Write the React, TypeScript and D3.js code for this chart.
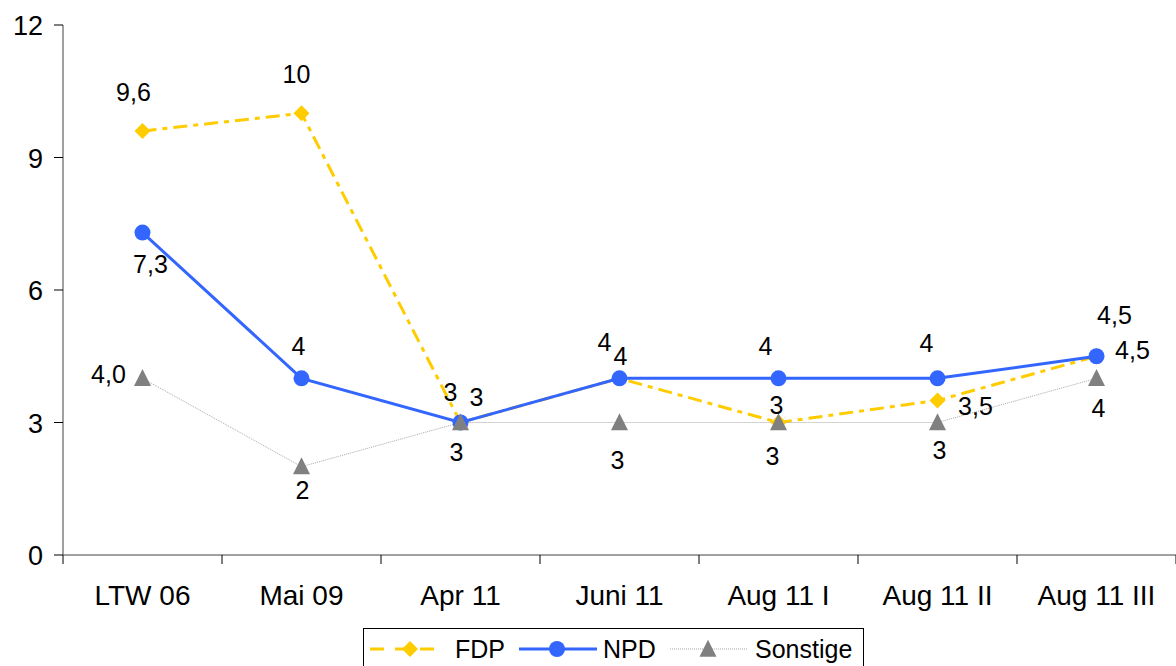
import React from "react";
import * as d3 from "d3";

const categories = ["LTW 06", "Mai 09", "Apr 11", "Juni 11", "Aug 11 I", "Aug 11 II", "Aug 11 III"];
const fdpValues = [9.6, 10, 3, 4, 3, 3.5, 4.5];
const npdValues = [7.3, 4, 3, 4, 4, 4, 4.5];
const sonstigeValues = [4.0, 2, 3, 3, 3, 3, 4];
const fdpLabels = ["9,6", "10", "3", "4", "3", "3,5", "4,5"];
const npdLabels = ["7,3", "4", "3", "4", "4", "4", "4,5"];
const sonstigeLabels = ["4,0", "2", "3", "3", "3", "3", "4"];
const yTicks = [0, 3, 6, 9, 12];

// label layout offsets (dx, dy) relative to the marker
const fdpLabelOffsets: [number, number][] = [[-9, -30], [-5, -30], [-10, -22], [-15, -27], [-2, -9], [38, 15], [18, -32]];
const npdLabelOffsets: [number, number][] = [[8, 40], [-3, -23], [16, -17], [1, -13], [-13, -23], [-11, -26], [36, 3]];
const sonstigeLabelOffsets: [number, number][] = [[-34, 5], [1, 32], [-4, 38], [-2, 46], [-6, 42], [2, 36], [2, 39]];

const W = 1176;
const H = 666;
const left = 63;
const right = 1176;
const top = 25;
const bottom = 555;
const FONT = "'Liberation Sans', Arial, sans-serif";
const FS_X = 28;
const FS_Y = 27;
const FS_LABEL = 25;
const FS_LEGEND = 25;

const FDP_COLOR = "#FFCC00";
const NPD_COLOR = "#3366FF";
const SON_COLOR = "#808080";

const x = d3.scaleBand<string>().domain(categories).range([left, right]).padding(0);
const y = d3.scaleLinear().domain([0, 12]).range([bottom, top]);
const cx = (c: string) => (x(c) as number) + x.bandwidth() / 2;

const lineGen = d3
  .line<number>()
  .x((_, i) => cx(categories[i]))
  .y((d) => y(d));

const diamond = (px: number, py: number, r: number) =>
  `M${px},${py - r}L${px + r},${py}L${px},${py + r}L${px - r},${py}Z`;
const triangle = (px: number, py: number, s: number) =>
  `M${px},${py - s * 0.55}L${px + s / 2},${py + s * 0.45}L${px - s / 2},${py + s * 0.45}Z`;

export default function App() {
  const labelText = (vals: number[], labels: string[], offs: [number, number][], key: string) =>
    vals.map((v, i) => (
      <text
        key={key + i}
        x={cx(categories[i]) + offs[i][0]}
        y={y(v) + offs[i][1]}
        textAnchor="middle"
        fontFamily={FONT}
        fontSize={FS_LABEL}
        fill="#000"
      >
        {labels[i]}
      </text>
    ));

  const boundaries = d3.range(categories.length + 1).map((i) => left + i * x.bandwidth());

  return (
    <svg
      width={W}
      height={H}
      style={{ position: "absolute", left: 0, top: 0, background: "#fff" }}
    >
      <rect x={0} y={0} width={W} height={H} fill="#fff" />
      {/* axes */}
      <line x1={left} x2={left} y1={top} y2={bottom} stroke="#808080" strokeWidth={1.5} />
      <line x1={left} x2={right} y1={bottom} y2={bottom} stroke="#808080" strokeWidth={1.5} />
      {yTicks.map((t) => (
        <g key={"yt" + t}>
          <line x1={left - 9} x2={left} y1={y(t)} y2={y(t)} stroke="#000" strokeWidth={1} />
          <text
            x={43}
            y={y(t) + 10}
            textAnchor="end"
            fontFamily={FONT}
            fontSize={FS_Y}
            fill="#000"
          >
            {t}
          </text>
        </g>
      ))}
      {boundaries.map((bx, i) => (
        <line key={"xt" + i} x1={bx} x2={bx} y1={bottom} y2={bottom + 9} stroke="#000" strokeWidth={1} />
      ))}
      {categories.map((c) => (
        <text
          key={"xl" + c}
          x={cx(c)}
          y={605}
          textAnchor="middle"
          fontFamily={FONT}
          fontSize={FS_X}
          fill="#000"
        >
          {c}
        </text>
      ))}

      {/* series lines */}
      <path d={lineGen(fdpValues) as string} fill="none" stroke={FDP_COLOR} strokeWidth={3} strokeDasharray="14,6,5,6" />
      <path d={lineGen(npdValues) as string} fill="none" stroke={NPD_COLOR} strokeWidth={3} />
      <path d={lineGen(sonstigeValues) as string} fill="none" stroke="#A8A8A8" strokeWidth={1} strokeDasharray="1,1" />

      {/* markers */}
      {fdpValues.map((v, i) => (
        <path key={"fm" + i} d={diamond(cx(categories[i]), y(v), 8)} fill={FDP_COLOR} />
      ))}
      {npdValues.map((v, i) => (
        <circle key={"nm" + i} cx={cx(categories[i])} cy={y(v)} r={8} fill={NPD_COLOR} />
      ))}
      {sonstigeValues.map((v, i) => (
        <path key={"sm" + i} d={triangle(cx(categories[i]), y(v), 17)} fill={SON_COLOR} />
      ))}

      {/* data labels */}
      {labelText(fdpValues, fdpLabels, fdpLabelOffsets, "fl")}
      {labelText(npdValues, npdLabels, npdLabelOffsets, "nl")}
      {labelText(sonstigeValues, sonstigeLabels, sonstigeLabelOffsets, "sl")}

      {/* legend */}
      <rect x={363.5} y={628.5} width={500} height={50} fill="#fff" stroke="#000" strokeWidth={1} />
      <line x1={370} x2={443} y1={649} y2={649} stroke={FDP_COLOR} strokeWidth={3} strokeDasharray="14,11" />
      <path d={diamond(410, 649, 8)} fill={FDP_COLOR} />
      <text x={455} y={658} fontFamily={FONT} fontSize={FS_LEGEND} fill="#000">FDP</text>
      <line x1={519} x2={597} y1={649} y2={649} stroke={NPD_COLOR} strokeWidth={3} />
      <circle cx={557} cy={649} r={8} fill={NPD_COLOR} />
      <text x={603} y={658} fontFamily={FONT} fontSize={FS_LEGEND} fill="#000">NPD</text>
      <line x1={670} x2={748} y1={649} y2={649} stroke="#A8A8A8" strokeWidth={1} strokeDasharray="1,1" />
      <path d={triangle(708, 649, 17)} fill={SON_COLOR} />
      <text x={755} y={658} fontFamily={FONT} fontSize={FS_LEGEND} fill="#000">Sonstige</text>
    </svg>
  );
}
